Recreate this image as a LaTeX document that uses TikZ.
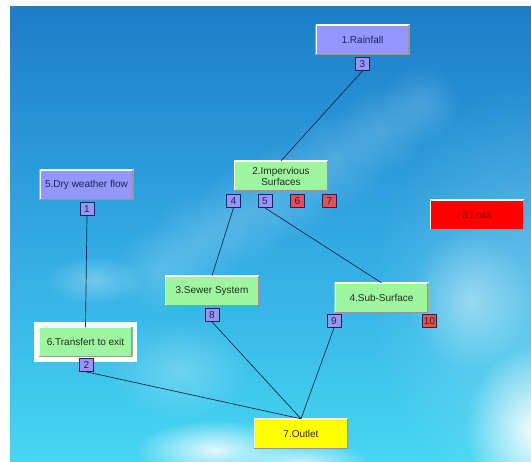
\documentclass[tikz,border=0pt]{standalone}
\usepackage{fontspec}
\setmainfont{Liberation Sans}
\usetikzlibrary{fadings}
\tikzfading[name=softcloud, inner color=transparent!0, outer color=transparent!100]
\definecolor{skytop}{RGB}{28,125,200}
\definecolor{skymid}{RGB}{50,168,226}
\definecolor{skybot}{RGB}{70,215,242}
\definecolor{boxblue}{RGB}{150,150,255}
\definecolor{boxgreen}{RGB}{160,245,160}
\definecolor{boxyellow}{RGB}{255,255,0}
\definecolor{boxred}{RGB}{255,0,0}
\definecolor{portblue}{RGB}{150,150,245}
\definecolor{portred}{RGB}{230,80,80}
\definecolor{portline}{RGB}{30,35,90}
\definecolor{linkcol}{RGB}{25,40,80}
\definecolor{edgegray}{RGB}{150,150,150}
\begin{document}
\begin{tikzpicture}[x=1pt,y=-1pt,
  box/.style={minimum width=94pt, minimum height=30pt, inner sep=1pt,
    font=\fontsize{10}{11}\selectfont, align=center,
    path picture={
      \draw[white,line width=2.4pt] (path picture bounding box.south west) -- (path picture bounding box.north west) -- (path picture bounding box.north east);
      \draw[edgegray,line width=2.4pt] (path picture bounding box.north east) -- (path picture bounding box.south east) -- (path picture bounding box.south west);}},
  bluebox/.style={box, fill=boxblue, text=portline},
  greenbox/.style={box, fill=boxgreen, text={rgb,255:red,25;green,50;blue,25}},
  yellowbox/.style={box, fill=boxyellow, text={rgb,255:red,50;green,50;blue,0}},
  redbox/.style={box, fill=boxred, text={rgb,255:red,140;green,0;blue,0}},
  port/.style={draw=portline, line width=0.8pt, minimum width=14pt, minimum height=13pt,
    inner sep=0pt, font=\fontsize{10}{10}\selectfont, text=portline},
  bport/.style={port, fill=portblue},
  rport/.style={port, fill=portred},
  link/.style={draw=linkcol, line width=0.7pt},
  cloud/.style={fill=white, path fading=softcloud}
]
\useasboundingbox (0,0) rectangle (531,462);
\fill[white] (0,0) rectangle (531,462);
\begin{scope}
\clip (10,7) rectangle (531,462);
\shade[top color=skytop, bottom color=skybot, middle color=skymid] (10,7) rectangle (531,462);
\fill[cloud, opacity=0.25] (540,300) ellipse (170 and 220);
\foreach \cx/\cy/\r in {160/270/45, 200/240/50, 245/215/50, 290/190/50, 335/160/50, 380/130/45, 420/105/40}
  \fill[cloud, opacity=0.18] (\cx,\cy) circle (\r);
\fill[cloud, opacity=0.30] (95,280) ellipse (50 and 25);
\fill[cloud, opacity=0.25] (180,370) ellipse (70 and 50);
\fill[cloud, opacity=0.85] (215,450) ellipse (80 and 30);
\fill[cloud, opacity=0.70] (300,462) ellipse (70 and 22);
\fill[cloud, opacity=0.95] (535,430) ellipse (70 and 85);
\fill[cloud, opacity=0.40] (470,300) ellipse (60 and 70);
\end{scope}

% main boxes
\node[bluebox] (rain) at (362.5,40) {1.Rainfall};
\node[greenbox] (imp) at (281,176) {2.Impervious\\Surfaces};
\node[bluebox] (dry) at (86.5,185) {5.Dry weather flow};
\node[greenbox] (sewer) at (212,291) {3.Sewer System};
\node[greenbox] (sub) at (381.5,298) {4.Sub-Surface};
\node[fill=white, minimum width=103pt, minimum height=40pt, inner sep=0pt] (transframe) at (85.5,342) {};
\node[greenbox] (trans) at (85.5,342) {6.Transfert to exit};
\node[yellowbox] (outlet) at (301,434) {7.Outlet};
\node[redbox] (loss) at (477,215) {8.Loss};

% ports
\node[bport] (p3) at (362.5,64) {3};
\node[bport] (p4) at (233.5,201) {4};
\node[bport] (p5) at (265,201) {5};
\node[rport] (p6) at (297.5,201) {6};
\node[rport] (p7) at (329.5,201) {7};
\node[bport] (p1) at (87,209) {1};
\node[bport] (p8) at (212,315) {8};
\node[bport] (p9) at (334,321) {9};
\node[rport] (p10) at (429.5,321) {10};
\node[bport] (p2) at (86.5,365) {2};

% connectors
\draw[link] (p3.south) -- (imp.north);
\draw[link] (p1.south) -- (trans.north);
\draw[link] (p4.south) -- (sewer.north);
\draw[link] (p5.south) -- (sub.north);
\draw[link] (p8.south) -- (outlet.north);
\draw[link] (p9.south) -- (outlet.north);
\draw[link] (p2.south) -- (outlet.north);
\end{tikzpicture}
\end{document}
